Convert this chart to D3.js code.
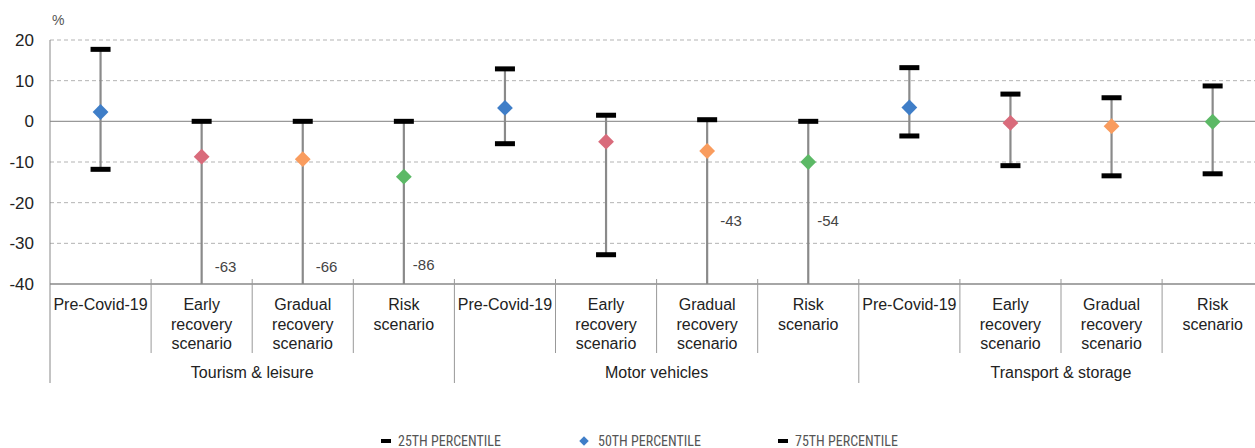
<!DOCTYPE html>
<html>
<head>
<meta charset="utf-8">
<script src="https://cdn.jsdelivr.net/npm/d3@7"></script>
<style>
    body { margin: 0; background: #fff; }
    svg { display: block; font-family: 'Liberation Sans', Arial, Helvetica, sans-serif; }
</style>
</head>
<body>
<svg class="main" width="1255" height="448"></svg>
<script>
const groups = ['Tourism & leisure', 'Motor vehicles', 'Transport & storage'];
const scenarios = [
    ['Pre-Covid-19'],
    ['Early', 'recovery', 'scenario'],
    ['Gradual', 'recovery', 'scenario'],
    ['Risk', 'scenario']
];
const scenarioColors = ['#3f7ec8', '#d96b7b', '#f99c5e', '#5cb966'];

// one value per group x scenario, in reading order
const p25 = [-11.8, -63, -66, -86, -5.5, -32.8, -43, -54, -3.6, -10.9, -13.4, -12.9];
const p50 = [2.3, -8.7, -9.3, -13.6, 3.3, -5.0, -7.3, -10.0, 3.4, -0.4, -1.2, -0.1];
const p75 = [17.7, 0, 0, 0, 12.9, 1.5, 0.4, 0, 13.2, 6.7, 5.8, 8.7];

const yTicks = [20, 10, 0, -10, -20, -30, -40];
const legendLabels = ['25TH PERCENTILE', '50TH PERCENTILE', '75TH PERCENTILE'];

const svg = d3.select('svg.main'),
    margin = { left: 50, top: 40, bottom: 284 },
    catWidth = 101.1,
    nCats = groups.length * scenarios.length;

const rows = d3.range(nCats).map(i => ({
    i: i,
    group: Math.floor(i / scenarios.length),
    scen: i % scenarios.length,
    lo: p25[i],
    mid: p50[i],
    hi: p75[i]
}));

const x = d3.scaleBand()
    .domain(d3.range(nCats))
    .range([margin.left, margin.left + nCats * catWidth])
    .padding(0);

const y = d3.scaleLinear()
    .domain([-40, 20])
    .range([margin.bottom, margin.top]);

const cx = i => x(i) + x.bandwidth() / 2;

// plain hyphen as in the original, not the unicode minus
const fmt = v => String(v);

// gridlines
svg.append('g')
    .selectAll('line')
    .data(yTicks.filter(t => t !== 0 && t !== -40))
    .enter()
    .append('line')
    .attr('x1', margin.left)
    .attr('x2', 1255)
    .attr('y1', d => y(d))
    .attr('y2', d => y(d))
    .attr('stroke', '#b3b3b3')
    .attr('stroke-width', 1)
    .attr('stroke-dasharray', '4,3');

svg.append('line')
    .attr('x1', margin.left)
    .attr('x2', 1255)
    .attr('y1', y(0))
    .attr('y2', y(0))
    .attr('stroke', '#999')
    .attr('stroke-width', 1.3);

// y axis
const yAxis = svg.append('g')
    .attr('transform', 'translate(' + margin.left + ',0)')
    .call(d3.axisLeft(y).tickValues(yTicks).tickFormat(fmt).tickSize(0).tickPadding(16));
yAxis.select('.domain').remove();
yAxis.selectAll('text')
    .attr('font-size', 17)
    .attr('fill', '#222')
    .attr('font-family', "'Liberation Sans', Arial, sans-serif");

svg.append('line')
    .attr('x1', margin.left)
    .attr('x2', margin.left)
    .attr('y1', margin.top)
    .attr('y2', 383)
    .attr('stroke', '#888')
    .attr('stroke-width', 1);

svg.append('text')
    .text('%')
    .attr('x', 52)
    .attr('y', 25)
    .attr('font-size', 14)
    .attr('fill', '#555');

// category axis
svg.append('line')
    .attr('x1', margin.left)
    .attr('x2', 1255)
    .attr('y1', margin.bottom)
    .attr('y2', margin.bottom)
    .attr('stroke', '#888')
    .attr('stroke-width', 1.3);

svg.append('g')
    .selectAll('line')
    .data(d3.range(1, nCats + 1))
    .enter()
    .append('line')
    .attr('x1', i => margin.left + i * catWidth)
    .attr('x2', i => margin.left + i * catWidth)
    .attr('y1', margin.bottom - 5)
    .attr('y2', i => i % scenarios.length === 0 ? 383 : 353)
    .attr('stroke', '#999')
    .attr('stroke-width', 1);

const catLabels = svg.append('g')
    .selectAll('text')
    .data(rows)
    .enter()
    .append('text')
    .attr('text-anchor', 'middle')
    .attr('font-size', 16)
    .attr('fill', '#222');

catLabels.selectAll('tspan')
    .data(d => scenarios[d.scen].map(t => ({ t: t, x: cx(d.i) })))
    .enter()
    .append('tspan')
    .attr('x', d => d.x)
    .attr('y', (d, k) => 310 + k * 19.5)
    .text(d => d.t);

svg.append('g')
    .selectAll('text')
    .data(groups)
    .enter()
    .append('text')
    .text(d => d)
    .attr('x', (d, g) => margin.left + (g + 0.5) * scenarios.length * catWidth)
    .attr('y', 378)
    .attr('text-anchor', 'middle')
    .attr('font-size', 16)
    .attr('fill', '#222');

// whiskers
const clipLo = v => Math.max(v, -40);

const dots = svg.append('g')
    .selectAll('g.dataDots')
    .data(rows)
    .enter()
    .append('g')
    .classed('dataDots', true);

dots.append('line')
    .attr('x1', d => cx(d.i))
    .attr('x2', d => cx(d.i))
    .attr('y1', d => y(clipLo(d.lo)))
    .attr('y2', d => y(d.hi))
    .attr('stroke', '#8a8a8a')
    .attr('stroke-width', 2.2);

dots.filter(d => d.lo >= -40)
    .append('rect')
    .attr('x', d => cx(d.i) - 10)
    .attr('y', d => y(d.lo) - 2.5)
    .attr('width', 20)
    .attr('height', 5)
    .attr('fill', '#000');

dots.append('rect')
    .attr('x', d => cx(d.i) - 10)
    .attr('y', d => y(d.hi) - 2.5)
    .attr('width', 20)
    .attr('height', 5)
    .attr('fill', '#000');

dots.append('path')
    .attr('d', d3.symbol().type(d3.symbolSquare).size(125))
    .attr('transform', d => 'translate(' + cx(d.i) + ',' + y(d.mid) + ') rotate(45)')
    .attr('fill', d => scenarioColors[d.scen]);

// values below the axis floor
const labelLevel = [-37, -25.8, -25.8];
dots.filter(d => d.lo < -40)
    .append('text')
    .text(d => fmt(d.lo))
    .attr('x', d => cx(d.i) + (d.scen === 3 ? 9 : 13))
    .attr('y', d => y(labelLevel[d.group]) - (d.lo < -80 ? 2 : 0))
    .attr('font-size', 15)
    .attr('fill', '#444');

// legend
const legend = svg.append('g')
    .attr('font-family', "'Liberation Sans Narrow', 'Roboto Condensed', Roboto, sans-serif")
    .attr('font-size', 14)
    .attr('fill', '#555');

const legendX = [381, 578, 778];

legendLabels.forEach((label, k) => {
    const lg = legend.append('g').attr('transform', 'translate(' + legendX[k] + ',441)');
    if (k === 1) {
        lg.append('path')
            .attr('d', d3.symbol().type(d3.symbolSquare).size(45))
            .attr('transform', 'translate(6,0) rotate(45)')
            .attr('fill', scenarioColors[0]);
        lg.append('text').text(label).attr('x', 20).attr('y', 5);
    } else {
        lg.append('rect')
            .attr('x', 0)
            .attr('y', -2)
            .attr('width', 10)
            .attr('height', 4)
            .attr('fill', '#000');
        lg.append('text').text(label).attr('x', 17).attr('y', 5);
    }
});
</script>
</body>
</html>
